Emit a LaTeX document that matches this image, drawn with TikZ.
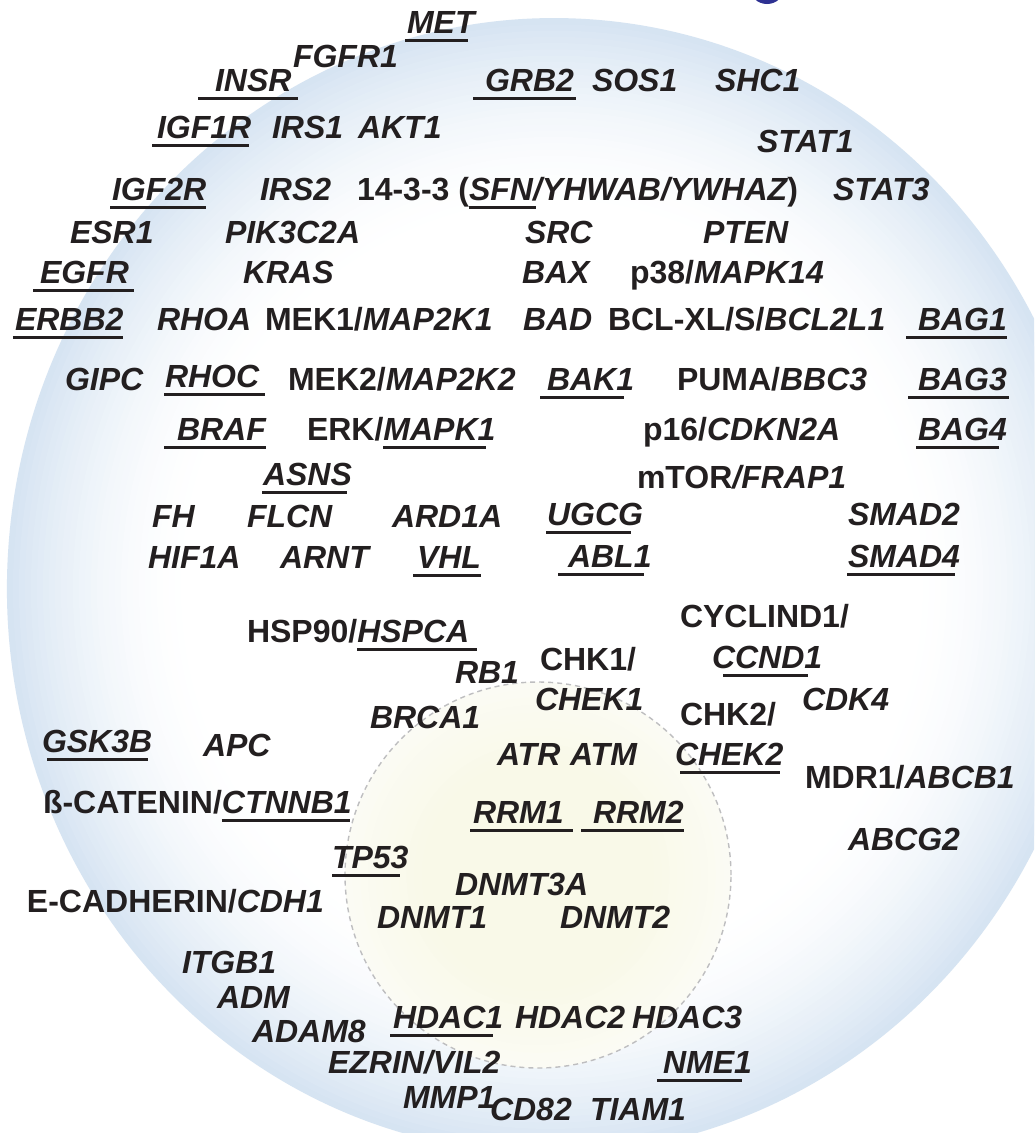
\documentclass[tikz,border=0pt]{standalone}
\usepackage{fontspec}
\setmainfont{Liberation Sans}
\definecolor{txt}{RGB}{35,31,32}
\definecolor{edgeblue}{RGB}{214,228,242}
\definecolor{creamin}{RGB}{249,249,232}
\definecolor{creamout}{RGB}{251,251,244}
\definecolor{dashgray}{RGB}{190,190,192}
\definecolor{darkblue}{RGB}{46,49,146}
\newsavebox\ulbox
% \Ul{left extension}{right extension}{text}
\newcommand\Ul[3]{\sbox\ulbox{#3}\rlap{\kern-#1pt\rule[-8.6pt]{\dimexpr\wd\ulbox+#1pt+#2pt\relax}{2.2pt}}\usebox\ulbox}
\tikzset{
  lab/.style={anchor=base west, inner sep=0pt, outer sep=0pt, text=txt,
    font=\fontsize{32}{38}\selectfont\bfseries\itshape},
  innerrim/.style={draw=dashgray, line width=1.4pt, dash pattern=on 5pt off 4pt},
}
\begin{document}
\begin{tikzpicture}[x=1pt,y=-1pt]
\path[use as bounding box] (0,0) rectangle (1034,1133);
\clip (0,0) rectangle (1034,1133);
\fill[white] (0,0) rectangle (1034,1133);
\fill[darkblue] (767,-12) ellipse [x radius=17pt, y radius=16pt];
% outer disc: glow from light blue rim to white centre
\foreach \i in {0,...,30}{
  \pgfmathsetmacro\f{1-0.011*\i}
  \pgfmathsetmacro\p{100*(1-\i/30)^1.7}
  \fill[edgeblue!\p!white, rotate around={-3:(552,586)}] (552,586) ellipse [x radius=545pt*\f, y radius=568pt*\f];
}
% inner disc
\foreach \i in {0,...,10}{
  \pgfmathsetmacro\f{1-0.04*\i}
  \pgfmathsetmacro\p{100*\i/10}
  \fill[creamin!\p!creamout] (538,875) circle [radius=193pt*\f];
}
\path[innerrim] (538,875) circle [radius=193pt];

% receptors / top
\node[lab] (met) at (407,33) {\Ul{2}{-7}{MET}};
\node[lab] (fgfr1) at (293,67) {FGFR1};
\node[lab] (insr) at (215,91) {\Ul{17}{7}{INSR}};
\node[lab] (grb2) at (485,91) {\Ul{12}{2}{GRB2}};
\node[lab] (sos1) at (592,91) {SOS1};
\node[lab] (shc1) at (715,91) {SHC1};
\node[lab] (igf1r) at (157,138) {\Ul{5}{-2}{IGF1R}};
\node[lab] (irs1) at (272,138) {IRS1};
\node[lab] (akt1) at (358,138) {AKT1};
\node[lab] (stat1) at (757,152) {STAT1};
\node[lab] (igf2r) at (112,200) {\Ul{2}{0}{IGF2R}};
\node[lab] (irs2) at (260,200) {IRS2};
\node[lab] (ywha) at (357,200) {{\upshape 14-3-3 (}\Ul{0}{3}{SFN}/YHWAB/YWHAZ{\upshape )}};
\node[lab] (stat3) at (833,200) {STAT3};
\node[lab] (esr1) at (70,243) {ESR1};
\node[lab] (pik3c2a) at (225,243) {PIK3C2A};
\node[lab] (src) at (525,243) {SRC};
\node[lab] (pten) at (703,243) {PTEN};
\node[lab] (egfr) at (40,283) {\Ul{7}{5}{EGFR}};
\node[lab] (kras) at (243,283) {KRAS};
\node[lab] (bax) at (522,283) {BAX};
\node[lab] (p38) at (630,283) {{\upshape p38/}MAPK14};
\node[lab] (erbb2) at (15,330) {\Ul{2}{0}{ERBB2}};
\node[lab] (rhoa) at (157,330) {RHOA};
\node[lab] (mek1) at (265,330) {{\upshape MEK1/}MAP2K1};
\node[lab] (bad) at (523,330) {BAD};
\node[lab] (bcl) at (608,330) {{\upshape BCL-XL/S/}BCL2L1};
\node[lab] (bag1) at (918,330) {\Ul{12}{0}{BAG1}};
\node[lab] (gipc) at (65,390) {GIPC};
\node[lab] (rhoc) at (165,387) {\Ul{1}{6}{RHOC}};
\node[lab] (mek2) at (288,390) {{\upshape MEK2/}MAP2K2};
\node[lab] (bak1) at (547,390) {\Ul{7}{-10}{BAK1}};
\node[lab] (puma) at (677,390) {{\upshape PUMA/}BBC3};
\node[lab] (bag3) at (918,390) {\Ul{10}{2}{BAG3}};
\node[lab] (braf) at (177,440) {\Ul{13}{0}{BRAF}};
\node[lab] (erk) at (307,440) {{\upshape ERK/}\Ul{0}{-9}{MAPK1}};
\node[lab] (p16) at (643,440) {{\upshape p16/}CDKN2A};
\node[lab] (bag4) at (918,440) {\Ul{2}{-8}{BAG4}};
\node[lab] (asns) at (263,485) {\Ul{1}{-5}{ASNS}};
\node[lab] (mtor) at (637,488) {{\upshape mTOR}/FRAP1};
\node[lab] (fh) at (152,527) {FH};
\node[lab] (flcn) at (247,527) {FLCN};
\node[lab] (ard1a) at (392,527) {ARD1A};
\node[lab] (ugcg) at (547,525) {\Ul{1}{-12}{UGCG}};
\node[lab] (smad2) at (848,525) {SMAD2};
\node[lab] (hif1a) at (148,568) {HIF1A};
\node[lab] (arnt) at (280,568) {ARNT};
\node[lab] (vhl) at (417,568) {\Ul{4}{0}{VHL}};
\node[lab] (abl1) at (568,567) {\Ul{10}{-8}{ABL1}};
\node[lab] (smad4) at (848,567) {\Ul{1}{-5}{SMAD4}};

% middle
\node[lab] (hsp90) at (247,642) {{\upshape HSP90/}\Ul{0}{8}{HSPCA}};
\node[lab] (cyclind1) at (680,627) {\upshape CYCLIND1/};
\node[lab] (ccnd1) at (712,668) {\Ul{-11}{-14}{CCND1}};
\node[lab] (chk1) at (540,670) {\upshape CHK1/};
\node[lab] (rb1) at (455,683) {RB1};
\node[lab] (chek1) at (535,710) {CHEK1};
\node[lab] (cdk4) at (802,710) {CDK4};
\node[lab] (chk2) at (680,725) {\upshape CHK2/};
\node[lab] (brca1) at (370,728) {BRCA1};
\node[lab] (gsk3b) at (42,752) {\Ul{-5}{-4}{GSK3B}};
\node[lab] (apc) at (203,756) {APC};
\node[lab] (atr) at (497,765) {ATR};
\node[lab] (atm) at (570,765) {ATM};
\node[lab] (chek2) at (675,765) {\Ul{-5}{-3}{CHEK2}};
\node[lab] (mdr1) at (805,788) {{\upshape MDR1/}ABCB1};
\node[lab] (ctnnb1) at (43,813) {{\upshape ß-CATENIN/}\Ul{0}{-2}{CTNNB1}};
\node[lab] (rrm1) at (473,823) {\Ul{3}{9}{RRM1}};
\node[lab] (rrm2) at (593,823) {\Ul{12}{0}{RRM2}};
\node[lab] (abcg2) at (848,850) {ABCG2};
\node[lab] (tp53) at (332,868) {\Ul{0}{-8}{TP53}};
\node[lab] (dnmt3a) at (455,895) {DNMT3A};
\node[lab] (cdh1) at (27,912) {{\upshape E-CADHERIN/}CDH1};
\node[lab] (dnmt1) at (377,928) {DNMT1};
\node[lab] (dnmt2) at (560,928) {DNMT2};

% bottom
\node[lab] (itgb1) at (182,973) {ITGB1};
\node[lab] (adm) at (217,1008) {ADM};
\node[lab] (hdac1) at (393,1028) {\Ul{3}{-10}{HDAC1}};
\node[lab] (hdac2) at (515,1028) {HDAC2};
\node[lab] (hdac3) at (632,1028) {HDAC3};
\node[lab] (adam8) at (252,1042) {ADAM8};
\node[lab] (ezrin) at (328,1073) {EZRIN/VIL2};
\node[lab] (nme1) at (663,1073) {\Ul{6}{-10}{NME1}};
\node[lab] (mmp1) at (403,1108) {MMP1};
\node[lab] (cd82) at (490,1120) {CD82};
\node[lab] (tiam1) at (590,1120) {TIAM1};
\end{tikzpicture}
\end{document}
